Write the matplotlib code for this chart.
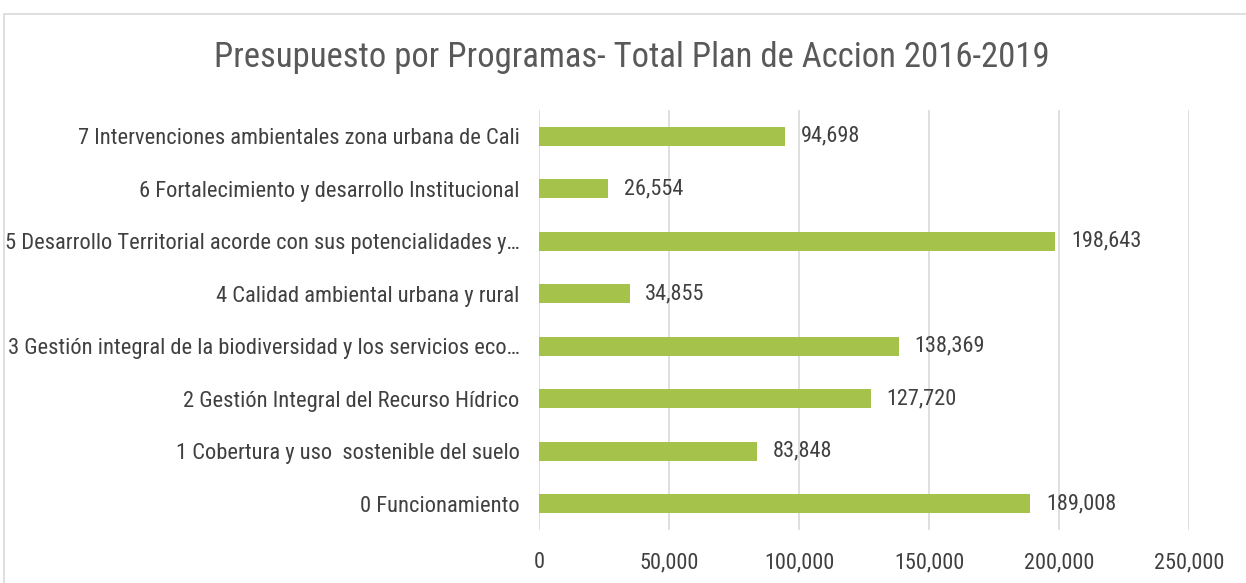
import matplotlib
matplotlib.use("Agg")
import matplotlib.pyplot as plt
from matplotlib.patches import Rectangle
from matplotlib.ticker import FuncFormatter

categories = [
    "0 Funcionamiento",
    "1 Cobertura y uso  sostenible del suelo",
    "2 Gestión Integral del Recurso Hídrico",
    "3 Gestión integral de la biodiversidad y los servicios eco…",
    "4 Calidad ambiental urbana y rural",
    "5 Desarrollo Territorial acorde con sus potencialidades y…",
    "6 Fortalecimiento y desarrollo Institucional",
    "7 Intervenciones ambientales zona urbana de Cali",
]
values = [189008, 83848, 127720, 138369, 34855, 198643, 26554, 94698]
xticks = [0, 50000, 100000, 150000, 200000, 250000]

plt.rcParams["font.family"] = ["Roboto Condensed", "Liberation Sans", "DejaVu Sans"]

W, H = 1246, 583
fig = plt.figure(figsize=(W / 100, H / 100), dpi=100)
fig.patches.append(Rectangle((4 / W, -0.1), 1.2, 1 - 14 / H + 0.1, transform=fig.transFigure,
                             fill=False, edgecolor="#d9d9d9", linewidth=1.2))

ax = fig.add_axes([539 / W, 1 - 530 / H, 650 / W, 420 / H])
y = list(range(len(categories)))
ax.barh(y, values, height=0.36, color="#a5c34a", zorder=3)
for yi, v in zip(y, values):
    ax.text(v + 6000, yi, f"{v:,}", va="center", ha="left", fontsize=16, color="#404040")
ax.set_yticks(y)
ax.set_yticklabels(categories, fontsize=16.2, color="#404040")
ax.set_ylim(-0.5, len(categories) - 0.5)
ax.set_xlim(0, 250000)
ax.set_xticks(xticks)
ax.xaxis.set_major_formatter(FuncFormatter(lambda v, p: f"{int(v):,}"))
ax.tick_params(axis="x", labelsize=16, labelcolor="#404040", length=0, pad=16)
ax.tick_params(axis="y", length=0, pad=14)
ax.grid(axis="x", color="#d9d9d9", linewidth=1.2, zorder=0)
for s in ax.spines.values():
    s.set_visible(False)
fig.text(632 / W, 1 - 57 / H, "Presupuesto por Programas- Total Plan de Accion 2016-2019",
         ha="center", va="center", fontsize=24.9, color="#595959")
fig.savefig("out.png", dpi=100)
